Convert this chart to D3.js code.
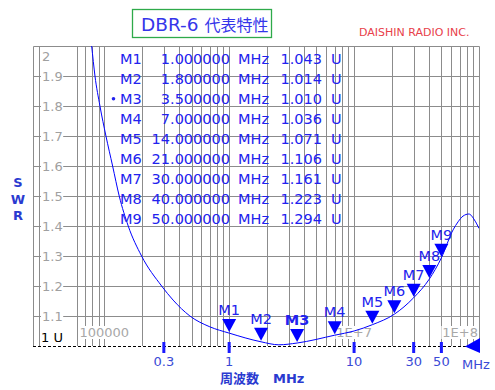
<!DOCTYPE html>
<html>
<head>
<meta charset="utf-8">
<script src="https://cdn.jsdelivr.net/npm/d3@7"></script>
<style>
  body { margin: 0; background: #fff; }
  svg { display: block; font-family: "DejaVu Sans", sans-serif; }
</style>
</head>
<body>
<div id="chart"></div>
<script>
// SWR curve (frequency in MHz)
var freqMHz = [0.07, 0.0793, 0.0843, 0.0924, 0.1032, 0.1167, 0.1318, 0.1556, 0.199, 0.288, 0.356, 0.485, 0.70,
               1.0, 1.8, 2.5, 3.5, 7, 10, 14, 21, 30, 40, 50, 62, 68, 74.5, 83, 92, 100];
var swrVals = [2.2, 2.0, 1.9, 1.8, 1.7, 1.6, 1.5, 1.4, 1.3, 1.2, 1.153, 1.1, 1.064,
               1.043, 1.014, 1.004, 1.010, 1.036, 1.05, 1.071, 1.106, 1.161, 1.223, 1.294, 1.387, 1.414, 1.433, 1.44, 1.42, 1.392];

// markers
var markerNames = ["M1", "M2", "M3", "M4", "M5", "M6", "M7", "M8", "M9"];
var markerFreq = [1, 1.8, 3.5, 7, 14, 21, 30, 40, 50];
var markerSWR = [1.043, 1.014, 1.010, 1.036, 1.071, 1.106, 1.161, 1.223, 1.294];
var activeMarker = "M3";

// axes
var swrTicks = [1.1, 1.2, 1.3, 1.4, 1.5, 1.6, 1.7, 1.8, 1.9];
var freqTicks = [0.3, 1, 10, 30, 50];
var freqTickLabels = ["0.3", "1", "10", "30", "50"];
var hzLabelFreq = [0.1, 10, 100];
var hzLabelText = ["100000", "1E+7", "1E+8"];
var gridFreq = [0.03, 0.06, 0.07, 0.08, 0.09,
                0.1, 0.2, 0.3, 0.4, 0.5, 0.6, 0.7, 0.8, 0.9,
                1, 2, 3, 4, 5, 6, 7, 8, 9,
                10, 20, 30, 40, 50, 60, 70, 80, 90];

var w = 495, h = 390;
var pLeft = 33, pRight = 479, pTop = 46, pBottom = 346;

var svg = d3.select("#chart").append("svg")
    .attr("width", w)
    .attr("height", h);

var x = d3.scaleLog().domain([0.0269, 100]).range([pLeft, pRight]);
var y = d3.scaleLinear().domain([1, 2]).range([pBottom, pTop]);

var gridColor = "#8c8c8c";
var labelGray = "#a0a0a0";
var blue = "#2222ee";

// grid
svg.append("g").selectAll("line").data(gridFreq).enter().append("line")
    .attr("x1", function(d) { return Math.round(x(d)) + 0.5; })
    .attr("x2", function(d) { return Math.round(x(d)) + 0.5; })
    .attr("y1", pTop).attr("y2", pBottom)
    .attr("stroke", gridColor).attr("stroke-width", 1);

svg.append("g").selectAll("line").data(swrTicks).enter().append("line")
    .attr("x1", pLeft).attr("x2", pRight)
    .attr("y1", function(d) { return Math.round(y(d)) + 0.5; })
    .attr("y2", function(d) { return Math.round(y(d)) + 0.5; })
    .attr("stroke", gridColor).attr("stroke-width", 1);

// frame
svg.append("path")
    .attr("d", "M" + (pLeft + 0.5) + "," + pBottom + "V" + (pTop + 0.5) + "H" + (pRight + 0.5) + "V" + pBottom)
    .attr("fill", "none").attr("stroke", gridColor);

// y labels with white boxes
var yl = svg.append("g").attr("font-size", 13).attr("fill", labelGray);
swrTicks.forEach(function(d) {
  var t = yl.append("text").attr("x", 42).attr("y", y(d) + 4.7).text(d.toFixed(1));
  var bb = t.node().getBBox();
  yl.insert("rect", "text").attr("x", 41).attr("y", y(d) - 6.5)
    .attr("width", bb.width + 1.5).attr("height", 13).attr("fill", "#fff");
});
yl.append("text").attr("x", 42).attr("y", pTop + 14.7).text("2");
svg.append("text").attr("x", 41).attr("y", pBottom - 4).attr("font-size", 13)
    .attr("fill", "#000").text("1 U");

// Hz labels inside plot
var hl = svg.append("g").attr("font-size", 13).attr("fill", "#a8a8a8");
hzLabelFreq.forEach(function(f, i) {
  var t = hl.append("text").attr("y", pBottom - 9.5).attr("text-anchor", "middle")
      .attr("x", x(f)).text(hzLabelText[i]);
  var bb = t.node().getBBox();
  if (bb.x + bb.width > pRight - 1) {
    t.attr("text-anchor", "end").attr("x", pRight - 1);
    bb = t.node().getBBox();
  }
  hl.insert("rect", "text").attr("x", bb.x - 1).attr("y", pBottom - 20)
    .attr("width", bb.width + 2).attr("height", 13).attr("fill", "#fff");
});

// bottom dashed line
svg.append("line")
    .attr("x1", pLeft).attr("x2", pRight)
    .attr("y1", pBottom + 0.5).attr("y2", pBottom + 0.5)
    .attr("stroke", "#000").attr("stroke-dasharray", "3,2");

// curve
svg.append("clipPath").attr("id", "plotclip").append("rect")
    .attr("x", pLeft).attr("y", pTop).attr("width", pRight - pLeft).attr("height", pBottom - pTop);

var line = d3.line()
    .x(function(d, i) { return x(freqMHz[i]); })
    .y(function(d) { return y(d); })
    .curve(d3.curveMonotoneX);

svg.append("path")
    .datum(swrVals)
    .attr("clip-path", "url(#plotclip)")
    .attr("d", line)
    .attr("fill", "none")
    .attr("stroke", "#0000ff")
    .attr("stroke-width", 1);

// markers on curve
var mk = svg.append("g");
markerNames.forEach(function(name, i) {
  var px = x(markerFreq[i]), py = y(markerSWR[i]) - 1;
  mk.append("path")
    .attr("d", "M" + (px - 7) + "," + (py - 13) + "L" + (px + 7) + "," + (py - 13) + "L" + px + "," + py + "Z")
    .attr("fill", "#0000ff");
  mk.append("text").attr("x", px).attr("y", py - 17).attr("text-anchor", "middle")
    .attr("font-size", 14.5).attr("fill", blue)
    .attr("font-weight", name === activeMarker ? "bold" : "normal")
    .text(name);
});

// marker table
var tb = svg.append("g").attr("font-size", 14.5).attr("fill", blue);
markerNames.forEach(function(name, i) {
  var ty = 63.6 + i * 20.1;
  tb.append("text").attr("x", 120).attr("y", ty).text(name);
  tb.append("text").attr("x", 230).attr("y", ty).attr("text-anchor", "end").text(markerFreq[i].toFixed(6));
  tb.append("text").attr("x", 238).attr("y", ty).text("MHz");
  tb.append("text").attr("x", 322).attr("y", ty).attr("text-anchor", "end").text(markerSWR[i].toFixed(3));
  tb.append("text").attr("x", 331).attr("y", ty).text("U");
  if (name === activeMarker) {
    tb.append("circle").attr("cx", 113.5).attr("cy", ty - 5).attr("r", 1.8).attr("fill", blue);
  }
});

// x ticks under the axis
var tickBlue = "#3a4ad6";
svg.append("g").selectAll("rect").data(freqTicks).enter().append("rect")
    .attr("x", function(d) { return x(d) - 1.5; })
    .attr("y", pBottom - 4).attr("width", 3).attr("height", 11)
    .attr("fill", "#1a1aff");
svg.append("g").selectAll("text").data(freqTicks).enter().append("text")
    .attr("x", function(d) { return x(d); })
    .attr("y", pBottom + 19.5)
    .attr("text-anchor", "middle").attr("font-size", 13).attr("fill", tickBlue)
    .text(function(d, i) { return freqTickLabels[i]; });

// right arrow + unit
svg.append("path")
    .attr("d", "M" + (pRight - 14) + "," + (pBottom + 0.5) + "L" + (pRight + 1) + "," + (pBottom - 8) + "L" + (pRight + 1) + "," + (pBottom + 7) + "Z")
    .attr("fill", "#0000ff");
svg.append("text").attr("x", 462).attr("y", pBottom + 23).attr("font-size", 13)
    .attr("fill", tickBlue).text("MHz");

// axis titles
var titleBlue = "#2a3ad0";
svg.append("text").attr("x", 220).attr("y", 383).attr("font-size", 13).attr("font-weight", "bold")
    .attr("fill", titleBlue)
    .html('<tspan font-family="Noto Sans CJK JP">周波数</tspan><tspan dx="14">MHz</tspan>');
["S", "W", "R"].forEach(function(c, i) {
  svg.append("text").attr("x", 18).attr("y", 187 + i * 16.5).attr("text-anchor", "middle")
    .attr("font-size", 13).attr("font-weight", "bold").attr("fill", titleBlue).text(c);
});

// title box
svg.append("rect").attr("x", 132.5).attr("y", 9.5).attr("width", 139).attr("height", 28)
    .attr("fill", "none").attr("stroke", "#2eaa4a").attr("stroke-width", 1.3);
svg.append("text").attr("x", 141).attr("y", 30.5).attr("fill", "#3535ea")
    .html('<tspan font-size="18.5">DBR-6 </tspan><tspan font-size="16" font-family="Noto Sans CJK JP">代表特性</tspan>');

svg.append("text").attr("x", 359).attr("y", 36).attr("font-size", 11).attr("fill", "#e8404a")
    .text("DAISHIN RADIO INC.");
</script>
</body>
</html>
